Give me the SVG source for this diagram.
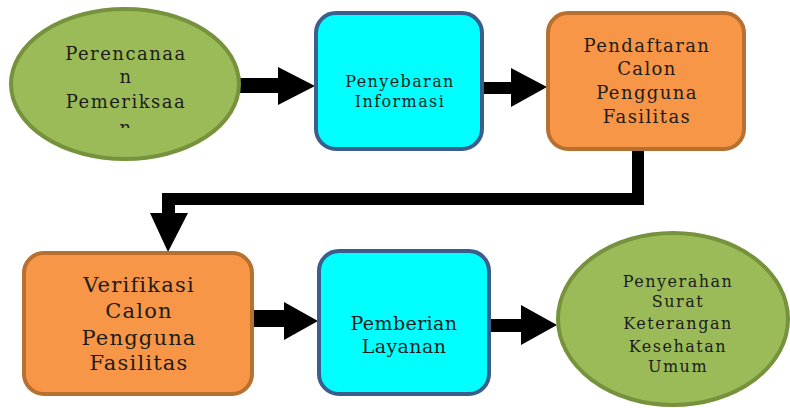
<svg xmlns="http://www.w3.org/2000/svg" width="790" height="408" viewBox="0 0 790 408">
<style>
.green{fill:#9bbb59;stroke:#76923c;stroke-width:4}
.cyan{fill:#00ffff;stroke:#3a5f8c;stroke-width:4}
.orange{fill:#f79646;stroke:#b7702f;stroke-width:4}
text{font-family:"DejaVu Serif","Liberation Serif",serif;fill:#1c1c1c;text-anchor:middle}
.conn{fill:#000}
</style>
<defs>
<clipPath id="clip1"><rect x="0" y="0" width="260" height="128"/></clipPath>
</defs>
<rect width="790" height="408" fill="#fff"/>
<g id="connectors" class="conn">
<polygon points="240,78 278,78 278,67 315,86 278,105 278,93 240,93"/>
<polygon points="483,82 511,82 511,68 547,87 511,107 511,94 483,94"/>
<polygon points="632,150 644,150 644,205 175,205 175,213 188,213 168,252 150,213 162,213 162,193 632,193"/>
<polygon points="253,310 284,310 284,302 318,321 284,340 284,327 253,327"/>
<polygon points="490,319 521,319 521,305 557,325 521,345 521,332 490,332"/>
</g>
<g id="n1">
<ellipse class="green" cx="125" cy="84" rx="114" ry="75"/>
<g clip-path="url(#clip1)" font-size="18" letter-spacing="1.5">
<text x="126" y="60">Perencanaa</text>
<text x="126" y="83">n</text>
<text x="126" y="108">Pemeriksaa</text>
<text x="126" y="134">n</text>
</g>
</g>
<g id="n2" font-size="16" letter-spacing="1.4">
<rect class="cyan" x="316" y="13" width="166" height="136" rx="20"/>
<text x="400" y="87">Penyebaran</text>
<text x="400" y="107">Informasi</text>
</g>
<g id="n3" font-size="18" letter-spacing="1.4">
<rect class="orange" x="548" y="13" width="196" height="136" rx="20"/>
<text x="647" y="52">Pendaftaran</text>
<text x="647" y="75">Calon</text>
<text x="647" y="99">Pengguna</text>
<text x="647" y="123">Fasilitas</text>
</g>
<g id="n4" font-size="21" letter-spacing="1.2">
<rect class="orange" x="24" y="253" width="228" height="141" rx="20"/>
<text x="139" y="292">Verifikasi</text>
<text x="139" y="318">Calon</text>
<text x="139" y="345">Pengguna</text>
<text x="139" y="370">Fasilitas</text>
</g>
<g id="n5" font-size="19" letter-spacing="0.4">
<rect class="cyan" x="319" y="251" width="170" height="143" rx="20"/>
<text x="404" y="330">Pemberian</text>
<text x="404" y="353">Layanan</text>
</g>
<g id="n6" font-size="16" letter-spacing="1.5">
<ellipse class="green" cx="673" cy="319" rx="115" ry="86"/>
<text x="678" y="287">Penyerahan</text>
<text x="678" y="307">Surat</text>
<text x="678" y="329">Keterangan</text>
<text x="678" y="352">Kesehatan</text>
<text x="678" y="372">Umum</text>
</g>
</svg>
